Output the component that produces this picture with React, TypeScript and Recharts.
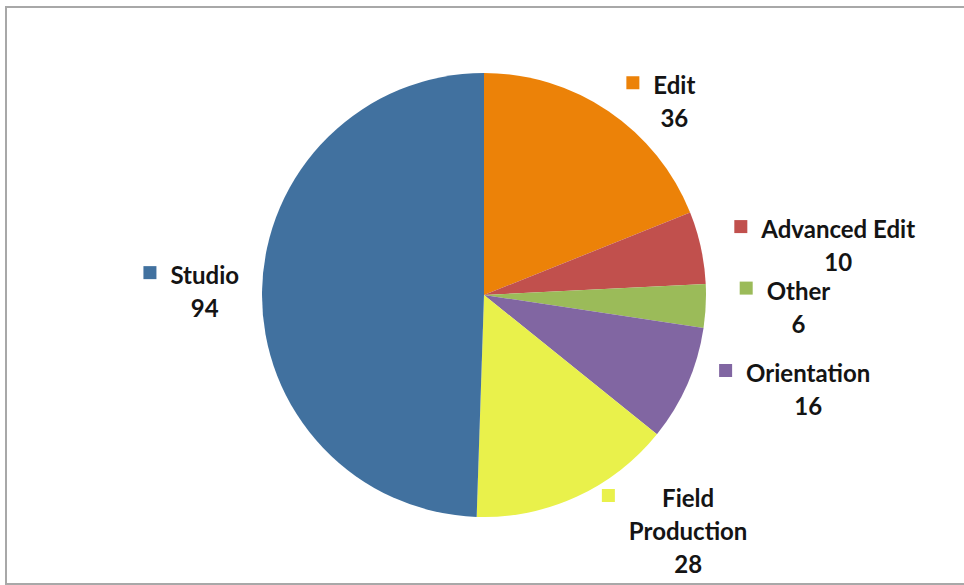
import { PieChart, Pie, Cell } from 'recharts';

const categories = ['Edit', 'Advanced Edit', 'Other', 'Orientation', 'Field Production', 'Studio'];
const counts = [36, 10, 6, 16, 28, 94];
const colors = ['#EC8208', '#C1504D', '#9BBB59', '#8166A2', '#E9F14B', '#41719F'];

const data = categories.map((name, i) => ({ name, value: counts[i] }));

const FONT_FAMILY = 'Lato';
const FONT_SIZE = 24;
const FONT_WEIGHT = 700;
const LINE_H = 33;
const MARK = 13;
const MARK_GAP = 14;

let ctx: CanvasRenderingContext2D | null = null;
const measure = (s: string) => {
  if (!ctx) ctx = document.createElement('canvas').getContext('2d');
  if (!ctx) return s.length * 12;
  ctx.font = `${FONT_WEIGHT} ${FONT_SIZE}px ${FONT_FAMILY}`;
  return ctx.measureText(s).width;
};

// excel-ish "best fit" outside label: name (+ wrap), value below, colour square on the left
const renderLabel = (props: any) => {
  const { cx, cy, midAngle, outerRadius, index } = props;
  const name = categories[index];
  const nameLines = name.length > 14 ? name.split(' ') : [name];
  const lines = [...nameLines, String(counts[index])];
  const textW = Math.max(...lines.map(measure));
  const blockW = MARK + MARK_GAP + textW;
  const h = lines.length * LINE_H;
  const rad = (-midAngle * Math.PI) / 180;
  const cos = Math.cos(rad);
  const sin = Math.sin(rad);
  const minTop = 20;
  const maxTop = 580 - h;
  let top = cy + sin * (outerRadius + 12) - h / 2;
  top = Math.min(Math.max(top, minTop), maxTop);
  const midY = top + h / 2;
  const dy = Math.abs(midY - cy);
  const reach = dy < outerRadius ? Math.sqrt(outerRadius * outerRadius - dy * dy) : 0;
  let left = cos >= 0 ? cx + reach + 34 : cx - reach - 23 - blockW;

  // keep the colour square clear of the pie (bottom-right labels get crowded)
  const clear = outerRadius + 5;
  const markY = () => top + LINE_H / 2 - MARK / 2 - 2;
  const markDist = () => {
    const px = Math.max(left, Math.min(cx, left + MARK));
    const py = Math.max(markY(), Math.min(cy, markY() + MARK));
    return Math.hypot(px - cx, py - cy);
  };
  if (cos >= 0 && markDist() < clear) {
    top = sin > 0 ? maxTop : Math.max(minTop, top);
    if (markDist() < clear) {
      const my = sin > 0 ? markY() : markY() + MARK;
      const need = Math.sqrt(Math.max(0, clear * clear - (my - cy) * (my - cy)));
      left = cx + need;
    }
  }

  const textX = left + MARK + MARK_GAP + textW / 2;

  return (
    <g key={`lbl-${index}`}>
      <rect x={left} y={markY()} width={MARK} height={MARK} fill={colors[index]} />
      {lines.map((t, i) => (
        <text
          key={i}
          x={textX}
          y={top + LINE_H * i + LINE_H / 2}
          textAnchor="middle"
          dominantBaseline="central"
          fontFamily={FONT_FAMILY}
          fontSize={FONT_SIZE}
          fontWeight={FONT_WEIGHT}
          fill="#141414"
        >
          {t}
        </text>
      ))}
    </g>
  );
};

const App = () => {
  return (
    <div style={{ position: 'absolute', left: 0, top: 0, width: 964, height: 585, background: '#fff', overflow: 'hidden' }}>
      <div
        style={{
          position: 'absolute',
          left: 5,
          top: 6,
          width: 990,
          height: 575,
          borderTop: '2px solid #a8a8a8',
          borderLeft: '2px solid #a8a8a8',
          borderBottom: '2px solid #a8a8a8',
        }}
      />
      <PieChart
        width={964}
        height={585}
        margin={{ top: 0, right: 0, bottom: 0, left: 0 }}
        style={{ position: 'absolute', left: 0, top: 0 }}
      >
        <Pie
          data={data}
          dataKey="value"
          nameKey="name"
          cx={484}
          cy={295}
          outerRadius={222}
          startAngle={90}
          endAngle={-270}
          stroke="none"
          labelLine={false}
          label={renderLabel}
          isAnimationActive={false}
        >
          {data.map((d, i) => (
            <Cell key={d.name} fill={colors[i]} />
          ))}
        </Pie>
      </PieChart>
    </div>
  );
};

export default App;
